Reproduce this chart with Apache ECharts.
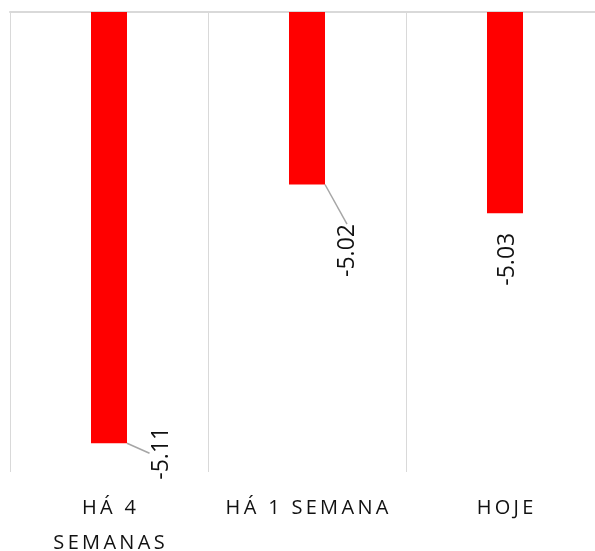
<!DOCTYPE html>
<html>
<head>
<meta charset="utf-8">
<script src="https://cdn.jsdelivr.net/npm/echarts@6/dist/echarts.min.js"></script>
<style>
html,body{margin:0;padding:0;background:#fff;}
#chart{width:595px;height:551px;}
</style>
</head>
<body>
<div id="chart"></div>
<script>
const categories = ['HÁ 4 SEMANAS', 'HÁ 1 SEMANA', 'HOJE'];
const values = [-5.11, -5.02, -5.03];
const showLeader = [true, true, false];
// label offsets from bar end (pixels, layout only)
const labelOffsets = [[52, 10], [40, 66], [2, 46]];

const chart = echarts.init(document.getElementById('chart'));
const spreadWord = w => w.split('').join('\u2009');
const fmt = v => {
  const words = v.split(' ').map(spreadWord);
  if (v.length > 11) {
    const last = words.pop();
    return words.join('\u2009 \u2009') + '\n' + last;
  }
  return words.join('\u2009 \u2009');
};

chart.setOption({
  animation: false,
  grid: {left: 10, top: 12, width: 594, height: 460, outerBoundsMode: 'none', containLabel: false},
  xAxis: [{
    type: 'category',
    data: categories,
    position: 'bottom',
    axisLine: {show: false},
    axisTick: {show: false},
    splitLine: {show: true, lineStyle: {color: '#d9d9d9', width: 1}},
    axisLabel: {
      margin: 19,
      fontFamily: 'Open Sans',
      fontSize: 20,
      lineHeight: 35,
      color: '#111111',
      interval: 0,
      formatter: fmt
    }
  }, {
    type: 'category',
    data: categories,
    position: 'top',
    axisLine: {show: true, lineStyle: {color: '#d9d9d9', width: 2}},
    axisTick: {show: false},
    axisLabel: {show: false},
    splitLine: {show: false}
  }],
  yAxis: {
    type: 'value',
    min: -5.12,
    max: -4.96,
    show: false
  },
  series: [{
    type: 'bar',
    xAxisIndex: 0,
    barWidth: 36,
    itemStyle: {color: '#ff0000'},
    data: values.map((v, i) => ({value: v, labelLine: {show: showLeader[i]}})),
    label: {
      show: true,
      position: 'bottom',
      rotate: 90,
      fontFamily: 'Open Sans',
      fontSize: 23,
      color: '#111111',
      formatter: p => p.value.toFixed(2)
    },
    labelLine: {
      show: true,
      lineStyle: {color: '#a6a6a6', width: 1.5}
    },
    labelLayout: function (params) {
      const r = params.rect;
      const o = labelOffsets[params.dataIndex];
      return {
        x: r.x + r.width / 2 + o[0],
        y: r.y + r.height + o[1],
        align: 'center',
        verticalAlign: 'middle'
      };
    }
  }]
});
</script>
</body>
</html>
